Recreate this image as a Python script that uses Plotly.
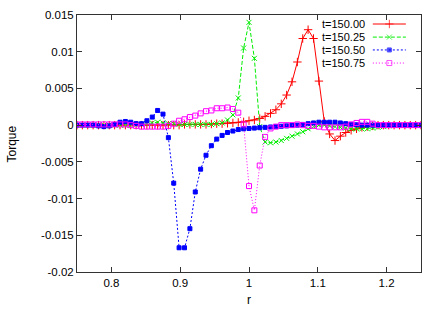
import plotly.graph_objects as go

r = [0.75, 0.7578, 0.7656, 0.7734, 0.7813, 0.7891, 0.7969, 0.8047, 0.8125, 0.8203,
     0.8281, 0.8359, 0.8438, 0.8516, 0.8594, 0.8672, 0.875, 0.8828, 0.8906, 0.8984,
     0.9063, 0.9141, 0.9219, 0.9297, 0.9375, 0.9453, 0.9531, 0.9609, 0.9688, 0.9766,
     0.9844, 0.9922, 1.0, 1.0078, 1.0156, 1.0234, 1.0313, 1.0391, 1.0469, 1.0547,
     1.0625, 1.0703, 1.0781, 1.0859, 1.0938, 1.1016, 1.1094, 1.1172, 1.125, 1.1328,
     1.1406, 1.1484, 1.1563, 1.1641, 1.1719, 1.1797, 1.1875, 1.1953, 1.2031, 1.2109,
     1.2188, 1.2266, 1.2344, 1.2422, 1.25]

torque_15000 = [0]*20 + [0.0001]*5 + [
    0.00015, 0.0002, 0.0002, 0.00025, 0.0003, 0.00037, 0.00045, 0.0006, 0.0007, 0.0009,
    0.0012, 0.0016, 0.0021, 0.0029, 0.0041, 0.0059, 0.0086, 0.0118, 0.0130, 0.0118,
    0.0060, 0.0005, -0.0012, -0.0021, -0.0015, -0.0010, -0.0007, -0.0005, -0.0003, -0.0002,
    -0.0001] + [0]*9

torque_15025 = [0]*11 + [
    0.0001, 0.0001, 0.0002, 0.0003, 0.0004, 0.0003, 0.0002, 0.0002, 0.0001, 0.0001,
    0.0001, 0.0001, 0.0001, 0.0001, 0.0001, 0.0002, 0.0003, 0.0007, 0.0014, 0.0037,
    0.0105, 0.0140, 0.0091, -0.0002, -0.0023, -0.0024, -0.0023, -0.0021, -0.0018, -0.0015,
    -0.0012, -0.0009, -0.0005, -0.0002, 0.0, 0.0, -0.0001, -0.0002, -0.0003, -0.0004,
    -0.0005, -0.0005, -0.0005, -0.0005, -0.0004, -0.0003, -0.0002, -0.0001] + [0]*6

torque_15050 = [
    0, 0, 0, 0, -0.0001, -0.0002, -0.0001, 0.0001, 0.0004, 0.0005,
    0.0004, 0.0002, 0.0002, 0.0006, 0.0011, 0.0020, 0.0015, -0.0017, -0.0079, -0.0167,
    -0.0167, -0.0141, -0.0091, -0.0060, -0.0041, -0.0028, -0.0019, -0.0014, -0.0010, -0.0008,
    -0.0006, -0.0005, -0.00045, -0.0004, -0.00035, -0.0003, -0.00025, -0.0002, -0.00015, -0.0001,
    -0.00005, 0, 0.0001, 0.0002, 0.0003, 0.0004, 0.0004, 0.0004, 0.0004, 0.0003,
    0.0002, 0.0001, 0.00005] + [0]*12

torque_15075 = [
    0.0001, 0.0001, 0.0001, 0.0001, 0.0001, 0.0001, 0.0001, 0.0001, 0.0001, 0.0001,
    0.0, -0.0001, -0.0002, -0.0002, -0.0002, -0.0002, -0.0002, -0.0001, 0.0002, 0.0006,
    0.0008, 0.0011, 0.0013, 0.0016, 0.0019, 0.0020, 0.0023, 0.0023, 0.0024, 0.0022,
    0.0017, 0.0001, -0.0083, -0.0116, -0.0055, -0.0016, -0.00045, -0.0002, 0.0, 0.0,
    0.0, 0.0001, 0.0, -0.0001, -0.0001, -0.0002, -0.0003, -0.0003, -0.0003, -0.0003,
    -0.0002, 0.0001, 0.0003, 0.00045, 0.00045, 0.0002] + [0]*9

labels = ["t=150.00", "t=150.25", "t=150.50", "t=150.75"]
series = [torque_15000, torque_15025, torque_15050, torque_15075]
colors = ["#ff0000", "#00ee00", "#0000ff", "#ff00ff"]
dashes = ["solid", "4px,2px", "2px,2px", "1px,2px"]
symbols = ["cross-thin-open", "x-thin-open", "square", "square-open"]
msizes = [6, 5, 4, 5]

xticks = [0.8, 0.9, 1.0, 1.1, 1.2]
xticklabels = ["0.8", "0.9", "1", "1.1", "1.2"]
yticks = [0.015, 0.01, 0.005, 0, -0.005, -0.01, -0.015, -0.02]
yticklabels = ["0.015", "0.01", "0.005", "0", "-0.005", "-0.01", "-0.015", "-0.02"]

fig = go.Figure()
for name, ys, c, d, s, ms in zip(labels, series, colors, dashes, symbols, msizes):
    fig.add_trace(go.Scatter(
        x=r, y=ys, mode="lines+markers", name=name,
        line=dict(color=c, width=1, dash=d),
        marker=dict(symbol=s, size=ms, color=c, line=dict(color=c, width=1)),
        showlegend=False))

# gnuplot-style key (text right-aligned, sample to the right)
key_x = [0.860, 0.908, 0.956]
key_rows = [0.965, 0.914, 0.864, 0.813]
for name, c, d, s, ms, ky in zip(labels, colors, dashes, symbols, msizes, key_rows):
    fig.add_trace(go.Scatter(
        x=key_x, y=[ky]*3, mode="lines+markers", xaxis="x2", yaxis="y2",
        line=dict(color=c, width=1, dash=d),
        marker=dict(symbol=s, size=[0, ms, 0], color=c, line=dict(color=c, width=1)),
        showlegend=False, hoverinfo="skip"))
    fig.add_annotation(x=0.840, y=ky, xref="x domain", yref="y domain",
                       text=name, showarrow=False, xanchor="right", yanchor="middle",
                       borderpad=0, font=dict(size=11, color="black"))

# axis titles
fig.add_annotation(x=-0.189, y=0.5, xref="x domain", yref="y domain", text="Torque",
                   showarrow=False, textangle=-90, xanchor="center", yanchor="middle",
                   font=dict(size=12, color="black"))
fig.add_annotation(x=0.5, y=-0.11, xref="x domain", yref="y domain", text="r",
                   showarrow=False, xanchor="center", yanchor="middle",
                   font=dict(size=12, color="black"))

axis_common = dict(showline=True, mirror="ticks", ticks="inside", ticklen=5,
                   linecolor="#333333", linewidth=1, tickcolor="#333333",
                   showgrid=False, zeroline=False, automargin=False,
                   tickfont=dict(size=11.5, color="black"))

fig.update_layout(
    width=442, height=309,
    margin=dict(l=77, r=21, t=15, b=37),
    paper_bgcolor="white", plot_bgcolor="white",
    font=dict(family="Liberation Sans, Arial, sans-serif", size=12, color="black"),
    xaxis=dict(range=[0.75, 1.25], tickvals=xticks, ticktext=xticklabels, **axis_common),
    yaxis=dict(range=[-0.02, 0.015], tickvals=yticks, ticktext=yticklabels, **axis_common),
    xaxis2=dict(overlaying="x", range=[0, 1], visible=False),
    yaxis2=dict(overlaying="y", range=[0, 1], visible=False),
)

fig.write_html("out.html", config={"displayModeBar": False},
               post_script="document.body.style.margin='0';document.body.style.overflow='hidden';")
